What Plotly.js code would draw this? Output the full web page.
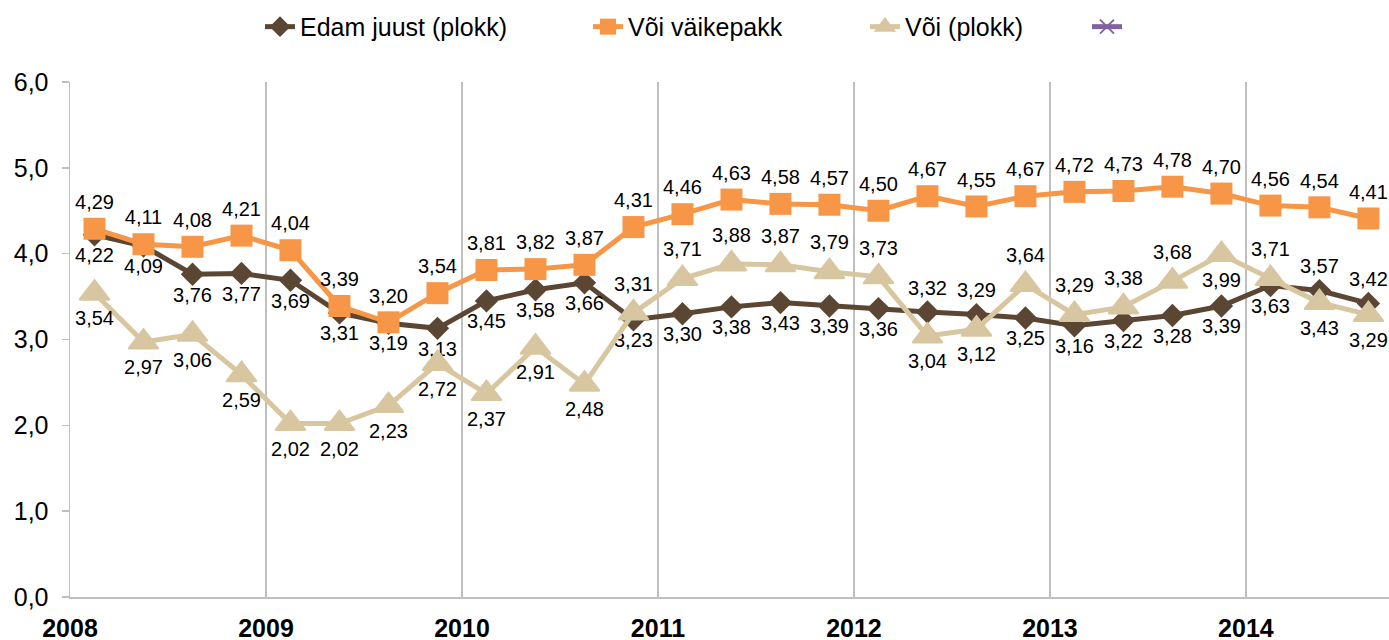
<!DOCTYPE html>
<html>
<head>
<meta charset="utf-8">
<script src="https://cdn.plot.ly/plotly-3.0.1.min.js"></script>
<style>html,body{margin:0;padding:0;background:#fff;}#chart{width:1389px;height:640px;}</style>
</head>
<body>
<div id="chart"></div>
<script>
// Quarterly observations, 2008 Q1 .. 2014 Q3
var quarterIndex = [0,1,2,3,4,5,6,7,8,9,10,11,12,13,14,15,16,17,18,19,20,21,22,23,24,25,26];
var yearLabels = ['2008','2009','2010','2011','2012','2013','2014'];
var yearStartIndex = [-0.5,3.5,7.5,11.5,15.5,19.5,23.5];

var edamJuust = [4.22,4.09,3.76,3.77,3.69,3.31,3.19,3.13,3.45,3.58,3.66,3.23,3.30,3.38,3.43,3.39,3.36,3.32,3.29,3.25,3.16,3.22,3.28,3.39,3.63,3.57,3.42];
var voiVaikepakk = [4.29,4.11,4.08,4.21,4.04,3.39,3.20,3.54,3.81,3.82,3.87,4.31,4.46,4.63,4.58,4.57,4.50,4.67,4.55,4.67,4.72,4.73,4.78,4.70,4.56,4.54,4.41];
var voiPlokk = [3.54,2.97,3.06,2.59,2.02,2.02,2.23,2.72,2.37,2.91,2.48,3.31,3.71,3.88,3.87,3.79,3.73,3.04,3.12,3.64,3.29,3.38,3.68,3.99,3.71,3.43,3.29];

var seriesNames = ['Edam juust (plokk)', 'Või väikepakk', 'Või (plokk)', ' '];

// label placement (style only)
var B = 'bottom center', T = 'top center';
var edamPos = [B,B,B,B,B,B,B,B,B,B,B,B,B,B,B,B,B,T,T,B,B,B,B,B,B,T,T];
var plokkPos = [B,B,B,B,B,B,B,B,B,B,B,T,T,T,T,T,T,B,B,T,T,T,T,B,T,B,B];

var FONT = 'Liberation Sans, Arial, sans-serif';
var labelFont = {family: FONT, size: 20, color: '#000'};

var traces = [
  {
    x: quarterIndex, y: edamJuust, name: seriesNames[0], type: 'scatter', mode: 'lines+markers+text',
    line: {color: '#5B4634', width: 5},
    marker: {symbol: 'diamond', size: 18, color: '#5B4634'},
    texttemplate: '%{y:.2f}', textposition: edamPos, textfont: labelFont, hoverinfo: 'skip', cliponaxis: false,
    legend: 'legend'
  },
  {
    x: quarterIndex, y: voiVaikepakk, name: seriesNames[1], type: 'scatter', mode: 'lines+markers+text',
    line: {color: '#F79646', width: 5},
    marker: {symbol: 'square', size: 22, color: '#F79646'},
    texttemplate: '%{y:.2f}', textposition: 'top center', textfont: labelFont, hoverinfo: 'skip', cliponaxis: false,
    legend: 'legend2'
  },
  {
    x: quarterIndex, y: voiPlokk, name: seriesNames[2], type: 'scatter', mode: 'lines+markers+text',
    line: {color: '#D8C6A0', width: 5},
    marker: {symbol: 'triangle-up', size: 26, color: '#D8C6A0', line: {color: '#D8C6A0', width: 2}},
    texttemplate: '%{y:.2f}', textposition: plokkPos, textfont: labelFont, hoverinfo: 'skip', cliponaxis: false,
    legend: 'legend3'
  },
  {
    x: [null], y: [null], name: seriesNames[3], type: 'scatter', mode: 'lines+markers',
    line: {color: '#8064A2', width: 5},
    marker: {symbol: 'x-thin-open', size: 14, color: '#8064A2', line: {color: '#8064A2', width: 2}},
    hoverinfo: 'skip',
    legend: 'legend4'
  }
];

function leg(xpx) {
  return {
    orientation: 'h', x: (xpx - 70) / 1319, xanchor: 'left', y: 1.107, yanchor: 'middle',
    font: {family: FONT, size: 25, color: '#000'}, bgcolor: 'rgba(0,0,0,0)'
  };
}

var layout = {
  width: 1389, height: 640,
  margin: {l: 70, r: 0, t: 82, b: 43},
  paper_bgcolor: '#fff', plot_bgcolor: '#fff',
  separators: ', ',
  font: {family: FONT, size: 24, color: '#000'},
  showlegend: true,
  legend: leg(260),
  legend2: leg(588),
  legend3: leg(865),
  legend4: leg(1087),
  xaxis: {
    range: [-0.5, 26.42],
    tickmode: 'array', tickvals: yearStartIndex, ticktext: yearLabels,
    showgrid: true, gridcolor: '#BFBFBF', gridwidth: 1.5,
    showline: true, linecolor: '#BFBFBF', linewidth: 1.5,
    ticks: '', zeroline: false,
    tickfont: {family: FONT, size: 25, color: '#000', weight: 'bold'},
    ticklabelstandoff: 8
  },
  yaxis: {
    range: [0, 6], dtick: 1, tick0: 0, tickformat: '.1f',
    showgrid: false, zeroline: false,
    showline: true, linecolor: '#BFBFBF', linewidth: 1.5,
    ticks: 'outside', ticklen: 7, tickcolor: '#BFBFBF', tickwidth: 1.5,
    tickfont: {family: FONT, size: 25, color: '#000'},
    ticklabelstandoff: 8
  },
  hovermode: false
};

Plotly.newPlot('chart', traces, layout, {displayModeBar: false, staticPlot: true});
</script>
</body>
</html>
